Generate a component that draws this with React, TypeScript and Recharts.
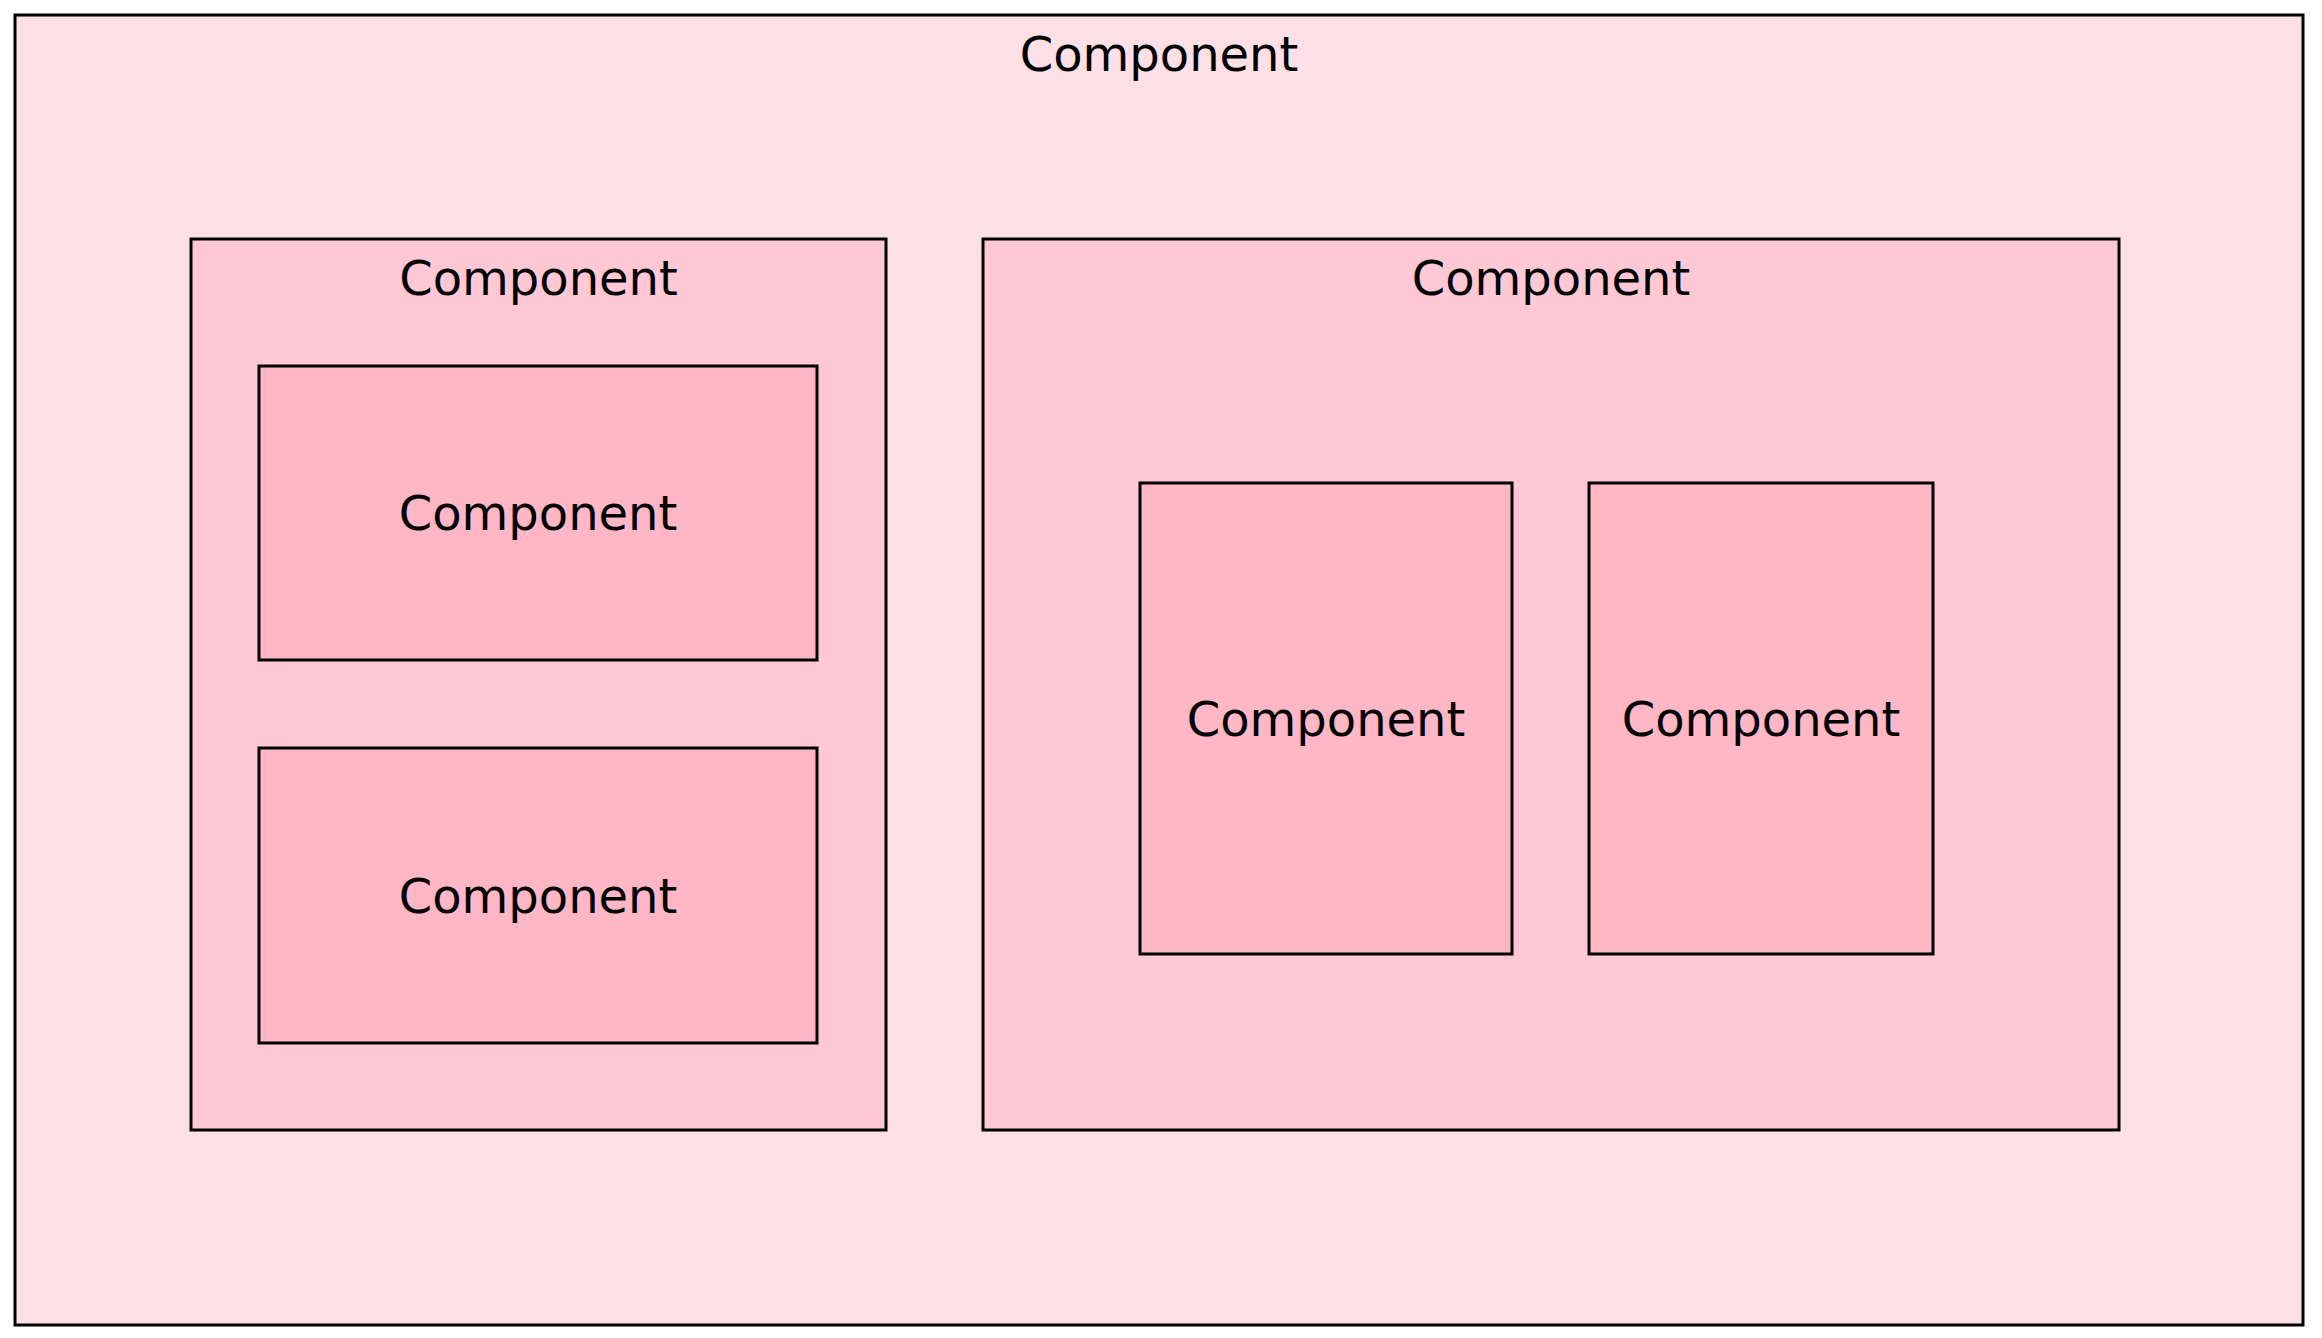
import { ComposedChart, XAxis, YAxis, ReferenceArea, Scatter } from "recharts";

const W = 2322;
const H = 1338;

// boxes: [x1, x2, y1, y2] in pixel-space units of the diagram
const boxNames = ["outer", "left", "right", "leftTop", "leftBottom", "rightA", "rightB"];
const boxLabels = ["Component", "Component", "Component", "Component", "Component", "Component", "Component"];
const boxX1 = [15, 191, 983, 259, 259, 1140, 1589];
const boxX2 = [2303, 886, 2119, 817, 817, 1512, 1933];
const boxY1 = [15, 239, 239, 366, 748, 483, 483];
const boxY2 = [1325, 1130, 1130, 660, 1043, 954, 954];
const boxLevel = [0, 1, 1, 2, 2, 2, 2];

const fills = ["#fde0e6", "#ffc8d4", "#ffb6c5"];

export default function App() {
  return (
    <div style={{ margin: -8, fontFamily: "DejaVu Sans" }}>
      <ComposedChart width={W} height={H} margin={{ top: 0, right: 0, bottom: 0, left: 0 }}>
        <XAxis type="number" dataKey="x" domain={[0, W]} hide allowDataOverflow />
        <YAxis type="number" dataKey="y" domain={[0, H]} reversed hide allowDataOverflow />
        <Scatter data={[]} isAnimationActive={false} />
        {boxNames.map((n, i) => (
          <ReferenceArea
            key={n}
            x1={boxX1[i]}
            x2={boxX2[i]}
            y1={boxY1[i]}
            y2={boxY2[i]}
            fill={fills[boxLevel[i]]}
            fillOpacity={1}
            stroke="#000"
            strokeWidth={3}
            ifOverflow="visible"
            label={{
              value: boxLabels[i],
              position: boxLevel[i] === 2 ? "center" : "insideTop",
              offset: 22,
              fill: "#000",
              fontSize: 48,
              fontFamily: "DejaVu Sans",
            }}
          />
        ))}
      </ComposedChart>
    </div>
  );
}
